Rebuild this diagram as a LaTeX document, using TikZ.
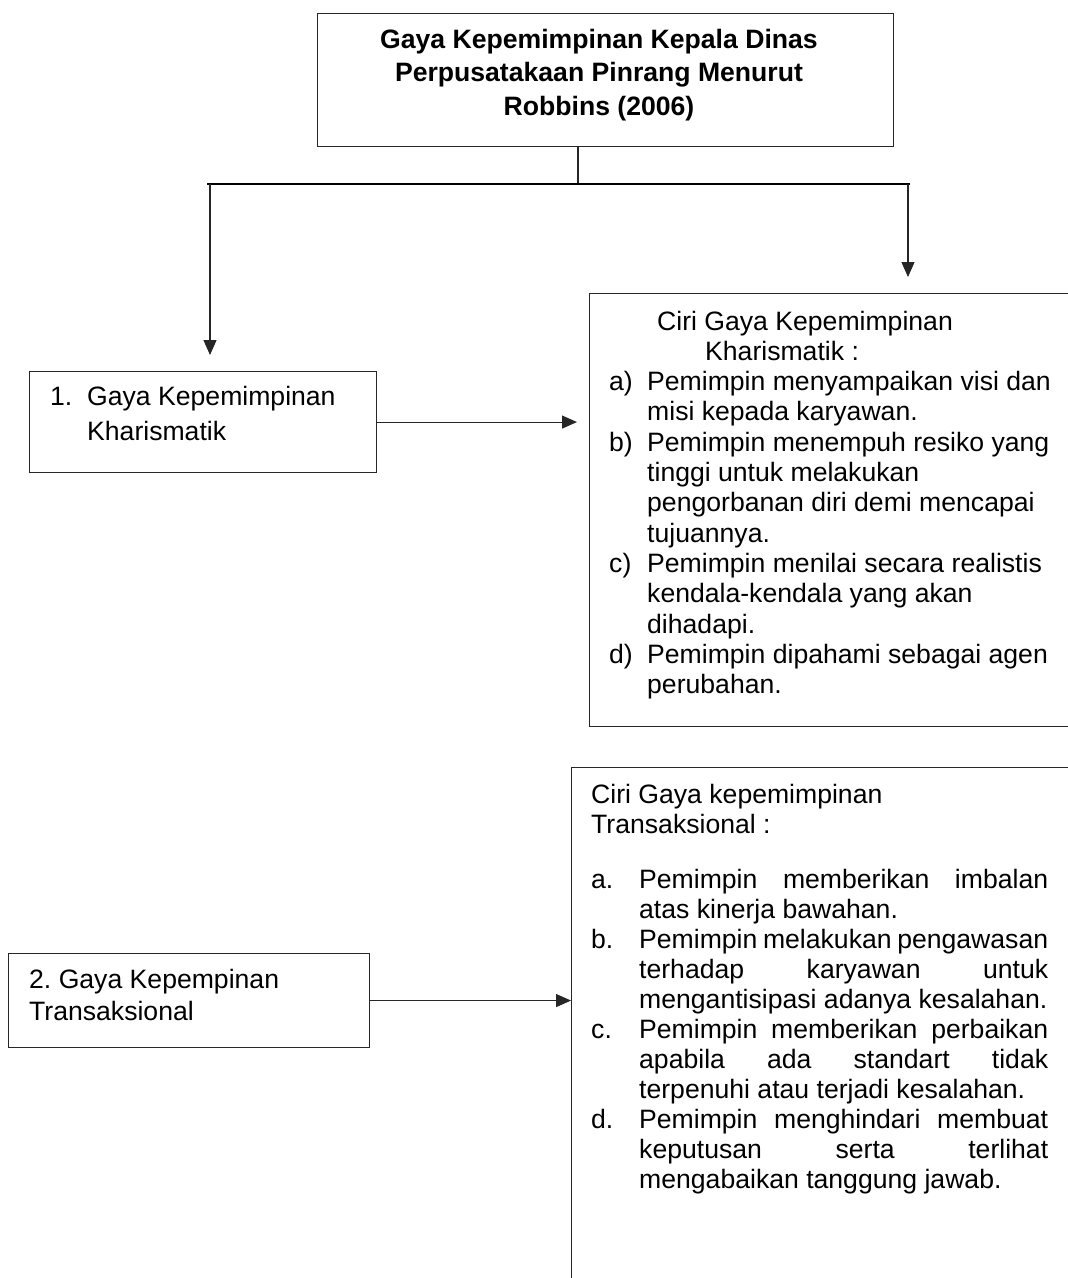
\documentclass[tikz,border=0pt]{standalone}
\usepackage{fontspec}
\setmainfont{Liberation Sans}
\usetikzlibrary{arrows.meta}
\newcommand\lbl[2]{\makebox[#1][l]{#2}}
\newcommand\jl[1]{\makebox[409pt][s]{#1}}
\frenchspacing
\begin{document}
\begin{tikzpicture}[x=1pt,y=-1pt,
  boxstyle/.style={draw=black!85, line width=1.1pt, inner sep=0pt, anchor=north west},
  txt/.style={inner sep=0pt, anchor=base west},
  conn/.style={draw=black!85, line width=1.1pt},
  arr/.style={conn, -{Triangle[length=15pt,width=13pt]}}
]
\fill[white] (0,0) rectangle (1068,1278);
\clip (0,0) rectangle (1068,1278);

% top box
\node[boxstyle, minimum width=576pt, minimum height=133pt] (top) at (317,13) {};
\node[inner sep=0pt, anchor=base] (toptxt) at (599,48)
  {\parbox[t]{560pt}{\fontsize{26.6}{33.5}\selectfont\bfseries\centering
   Gaya Kepemimpinan Kepala Dinas\\ Perpusatakaan Pinrang Menurut\\ Robbins (2006)\par}};

% connector tree
\coordinate (tj) at (578,184);
\coordinate (hl) at (207,184);
\coordinate (hr) at (910,184);
\coordinate (la) at (210,184);
\coordinate (lat) at (210,355);
\coordinate (ra) at (908,184);
\coordinate (rat) at (908,277);
\draw[conn] (top.south -| tj) -- (tj);
\draw[conn, line width=1.5pt, draw=black] (hl) -- (hr);
\draw[arr] (la) -- (lat);
\draw[arr] (ra) -- (rat);

% left boxes
\node[boxstyle, minimum width=347pt, minimum height=101pt] (b1) at (29,371) {};
\node[txt] (b1t) at (50,405)
  {\parbox[t]{320pt}{\fontsize{26.6}{35}\selectfont
   \lbl{37pt}{1.}Gaya Kepemimpinan\\ \hspace*{37pt}Kharismatik\par}};

\node[boxstyle, minimum width=361pt, minimum height=94pt] (b2) at (8,953) {};
\node[txt] (b2t) at (29,988)
  {\parbox[t]{330pt}{\fontsize{26.6}{32}\selectfont
   2. Gaya Kepempinan\\ Transaksional\par}};

% right boxes (open at page edges)
\node[boxstyle, minimum width=520pt, minimum height=433pt] (rb1) at (589,293) {};
\node[txt] (rb1t) at (609,330)
  {\parbox[t]{460pt}{\fontsize{26.6}{30.3}\selectfont
   \hspace*{48pt}Ciri Gaya Kepemimpinan\\
   \hspace*{96pt}Kharismatik :\\
   \lbl{38pt}{a)}Pemimpin menyampaikan visi dan\\
   \hspace*{38pt}misi kepada karyawan.\\
   \lbl{38pt}{b)}Pemimpin menempuh resiko yang\\
   \hspace*{38pt}tinggi untuk melakukan\\
   \hspace*{38pt}pengorbanan diri demi mencapai\\
   \hspace*{38pt}tujuannya.\\
   \lbl{38pt}{c)}Pemimpin menilai secara realistis\\
   \hspace*{38pt}kendala-kendala yang akan\\
   \hspace*{38pt}dihadapi.\\
   \lbl{38pt}{d)}Pemimpin dipahami sebagai agen\\
   \hspace*{38pt}perubahan.\par}};

\node[boxstyle, minimum width=540pt, minimum height=620pt] (rb2) at (571,767) {};
\node[txt] (rb2t) at (591,803)
  {\parbox[t]{470pt}{\fontsize{26.6}{30}\selectfont
   Ciri Gaya kepemimpinan\\
   Transaksional :\\[25pt]
   \lbl{48pt}{a.}\jl{Pemimpin memberikan imbalan}\\
   \hspace*{48pt}atas kinerja bawahan.\\
   \lbl{48pt}{b.}\jl{Pemimpin melakukan pengawasan}\\
   \hspace*{48pt}\jl{terhadap karyawan untuk}\\
   \hspace*{48pt}mengantisipasi adanya kesalahan.\\
   \lbl{48pt}{c.}\jl{Pemimpin memberikan perbaikan}\\
   \hspace*{48pt}\jl{apabila ada standart tidak}\\
   \hspace*{48pt}terpenuhi atau terjadi kesalahan.\\
   \lbl{48pt}{d.}\jl{Pemimpin menghindari membuat}\\
   \hspace*{48pt}\jl{keputusan serta terlihat}\\
   \hspace*{48pt}mengabaikan tanggung jawab.\par}};

% horizontal arrows
\draw[arr, shorten >=12pt] (b1.east) -- (b1.east -| rb1.west);
\draw[arr] (b2.east) -- (b2.east -| rb2.west);
\end{tikzpicture}
\end{document}
